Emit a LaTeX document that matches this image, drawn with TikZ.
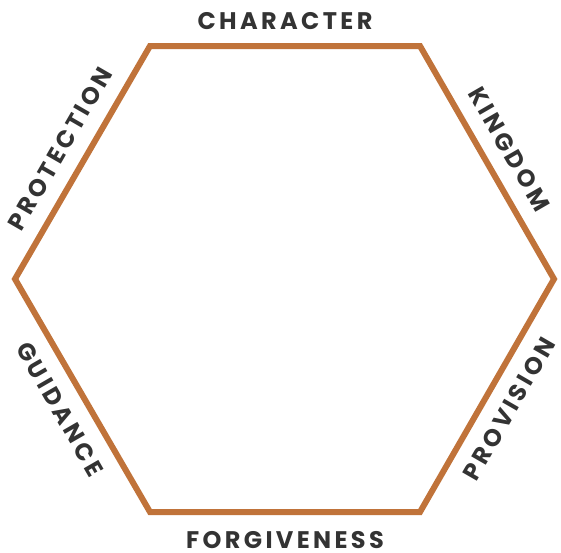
\documentclass[tikz,border=0pt]{standalone}
\usepackage{fontspec}
\setmainfont{Poppins}[UprightFont=* Bold, LetterSpace=14]
\definecolor{hexline}{HTML}{C0733A}
\definecolor{lbl}{HTML}{333333}
\begin{document}
\begin{tikzpicture}[x=1pt,y=-1pt,
  lab/.style={text=lbl,font=\fontsize{24}{24}\selectfont,inner sep=0pt,anchor=center}]
\useasboundingbox (0,0) rectangle (561,552);
\coordinate (tl) at (150,46);
\coordinate (tr) at (420,46);
\coordinate (r) at (554,279);
\coordinate (br) at (420,512);
\coordinate (bl) at (150,512);
\coordinate (l) at (15,279);
\draw[hexline,line width=6pt,line join=miter] (tl) -- (tr) -- (r) -- (br) -- (bl) -- (l) -- cycle;
\node[lab] (character) at (285,21) {CHARACTER};
\node[lab] (forgiveness) at (285,540) {FORGIVENESS};
\node[lab,rotate=-60] (kingdom) at (509,149) {KINGDOM};
\node[lab,rotate=60] (provision) at (509,409) {PROVISION};
\node[lab,rotate=60] (protection) at (60,149) {PROTECTION};
\node[lab,rotate=-60] (guidance) at (60,409) {GUIDANCE};
\end{tikzpicture}
\end{document}
